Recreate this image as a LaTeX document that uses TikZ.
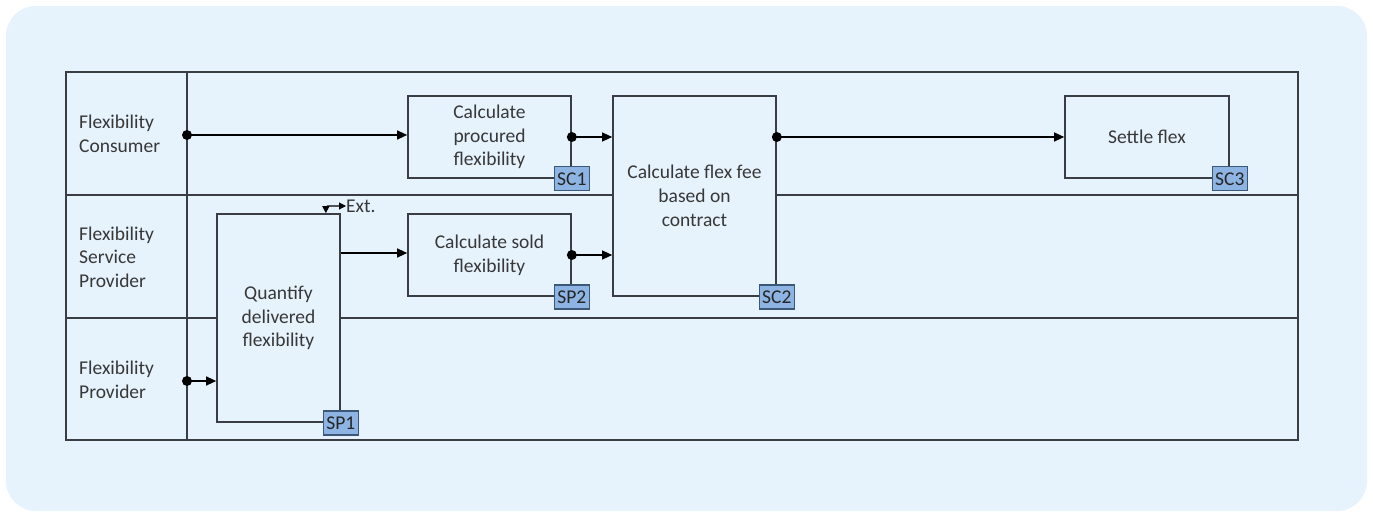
\documentclass[tikz,border=0pt]{standalone}
\usepackage{fontspec}
\setmainfont{Carlito}
\usetikzlibrary{arrows.meta,calc}
\definecolor{bgblue}{HTML}{E6F3FD}
\definecolor{linec}{HTML}{3A3E44}
\definecolor{txtc}{HTML}{383838}
\definecolor{tagfill}{HTML}{8DB4E2}
\definecolor{tagline}{HTML}{3C5878}
\begin{document}
\begin{tikzpicture}[x=1pt,y=-1pt,
  every node/.style={font=\fontsize{19.5}{23.7}\selectfont, text=txtc},
  proc/.style={draw=linec, line width=1.7pt, align=center, inner sep=0pt},
  tag/.style={draw=tagline, fill=tagfill, line width=1.3pt, minimum width=35pt, minimum height=24pt, inner sep=0pt, text=black!85},
  lane/.style={anchor=west, align=left, inner sep=0pt},
  arr/.style={draw=black, line width=1.4pt, -{Triangle[length=10pt,width=9pt]}},
  dot/.style={circle, fill=black, inner sep=0pt, minimum size=10pt},
  tbl/.style={draw=linec, line width=2.2pt}
]
\useasboundingbox (0,0) rectangle (1373,513);
\fill[bgblue, rounded corners=30pt] (6,6) rectangle (1367,511);

% table
\draw[tbl] (66,72) rectangle (1298,440);
\draw[tbl] (66,195) -- (1298,195);
\draw[tbl] (66,318) -- (1298,318);
\draw[tbl] (187,72) -- (187,440);

% lane labels
\node[lane] (l1) at (79,134) {Flexibility\\Consumer};
\node[lane] (l2) at (79,257) {Flexibility\\Service\\Provider};
\node[lane] (l3) at (79,380) {Flexibility\\Provider};

% process boxes
\node[proc, fill=bgblue, minimum width=163pt, minimum height=82pt] (proc) at (489.5,137) {Calculate\\procured\\flexibility};
\node[proc, fill=bgblue, minimum width=163pt, minimum height=82pt] (sold) at (489.5,255) {Calculate sold\\flexibility};
\node[proc, fill=bgblue, minimum width=163pt, minimum height=200pt] (fee) at (694.5,196) {Calculate flex fee\\based on\\contract};
\node[proc, fill=bgblue, minimum width=164pt, minimum height=82pt] (settle) at (1147,137) {Settle flex};
\node[proc, fill=bgblue, minimum width=123pt, minimum height=208pt] (quant) at (278.5,318) {Quantify\\delivered\\flexibility};

% tags
\node[tag] (sc1) at (proc.south east) {SC1};
\node[tag] (sp2) at (sold.south east) {SP2};
\node[tag] (sc2) at (fee.south east) {SC2};
\node[tag] (sc3) at (settle.south east) {SC3};
\node[tag] (sp1) at (quant.south east) {SP1};

% connectors
\node[dot] (d0) at (187,135) {};
\draw[arr] (d0.center) -- (proc.west |- d0.center);

\node[dot] (d1) at (proc.east) {};
\draw[arr] (d1.center) -- (fee.west |- d1.center);

\node[dot] (d2) at (sold.east) {};
\draw[arr] (d2.center) -- (fee.west |- d2.center);

\node[dot] (d3) at (fee.east |- settle.west) {};
\draw[arr] (d3.center) -- (settle.west);

\coordinate (q1) at (quant.east |- 0,253);
\draw[arr] (q1) -- (sold.west |- q1);

\node[dot] (d4) at (187,381) {};
\draw[arr] (d4.center) -- (quant.west |- d4.center);

% Ext.
\node[anchor=west, inner sep=0pt] (ext) at (346,206) {Ext.};
\coordinate (qe) at ([xshift=-15pt]quant.north east);
\draw[draw=black, line width=1.2pt, {Triangle[length=7pt,width=7pt]}-{Triangle[length=7pt,width=7pt]}, rounded corners=2pt] (qe) |- (ext.west);
\end{tikzpicture}
\end{document}
